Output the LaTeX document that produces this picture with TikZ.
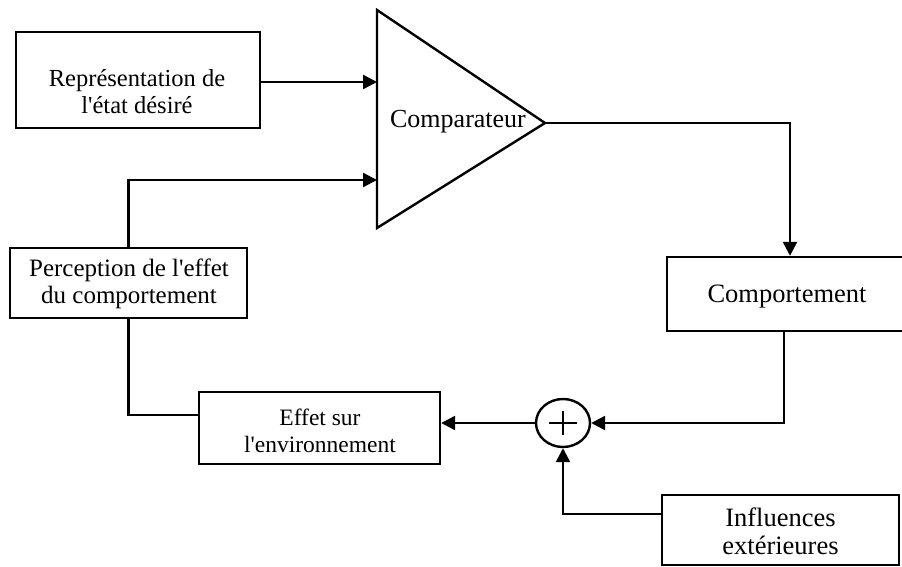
\documentclass[tikz,border=0pt]{standalone}
\usepackage{fontspec}
\setmainfont{Liberation Serif}[Ligatures=TeXOff]
\usetikzlibrary{arrows.meta,shapes.geometric,calc}
\begin{document}
\begin{tikzpicture}[x=1pt,y=-1pt,
  lw/.style={line width=2.4pt},
  blk/.style={draw,lw,rectangle,inner sep=0pt},
  lbl/.style={align=center,inner sep=0pt},
  arr/.style={lw,-{Triangle[length=14pt,width=14pt]}},
  ln/.style={lw}
]
\clip (0,0) rectangle (902,567);

% boxes
\node[blk,minimum width=244pt,minimum height=96pt] (rep) at (138,80) {};
\node[lbl,font=\fontsize{24.5}{27}\selectfont] (repT) at (137,92) {Représentation de\\l'état désiré};

\node[blk,minimum width=237pt,minimum height=70pt] (perc) at (128.5,283) {};
\node[lbl,font=\fontsize{25}{27}\selectfont] (percT) at (129,284) {Perception de l'effet\\du comportement};

\node[blk,minimum width=240pt,minimum height=74pt] (comport) at (787,294) {};
\node[lbl,font=\fontsize{26.5}{27}\selectfont] (comportT) at (787,297) {Comportement};

\node[blk,minimum width=241pt,minimum height=72pt] (effet) at (319.5,428) {};
\node[lbl,font=\fontsize{23.5}{27}\selectfont] (effetT) at (320,431) {Effet sur\\l'environnement};

\node[blk,minimum width=237pt,minimum height=70pt] (infl) at (780.5,530) {};
\node[lbl,font=\fontsize{26.5}{28}\selectfont] (inflT) at (780.5,531) {Influences\\extérieures};

% comparator triangle
\coordinate (cA) at (377,10);
\coordinate (cB) at (377,228);
\coordinate (tip) at (545,123);
\draw[lw,line join=miter] (cA) -- (tip) -- (cB) -- cycle;
\node[lbl,font=\fontsize{26}{27}\selectfont] (comp) at (458,122) {Comparateur};
\coordinate (in1) at (377,82);
\coordinate (in2) at (377,180);

% summing junction
\node[draw,lw,ellipse,minimum width=54pt,minimum height=48pt,inner sep=0pt] (sum) at (563,423) {};
\draw[lw] ([xshift=-14pt]sum.center) -- ([xshift=14pt]sum.center);
\draw[lw] ([yshift=-12pt]sum.center) -- ([yshift=12pt]sum.center);

% connectors
\draw[arr] (rep.east |- in1) -- (in1);
\draw[arr] (perc.north) |- (in2);
\draw[arr] (tip) -| ([xshift=3pt]comport.north);
\draw[arr] ([xshift=-3pt]comport.south) |- (sum.east);
\draw[arr] (sum.west) -- (effet.east |- sum.west);
\draw[ln] (perc.south) |- ([yshift=13pt]effet.west);
\draw[arr] ([yshift=16pt]infl.west) -| (sum.south);
\end{tikzpicture}
\end{document}
